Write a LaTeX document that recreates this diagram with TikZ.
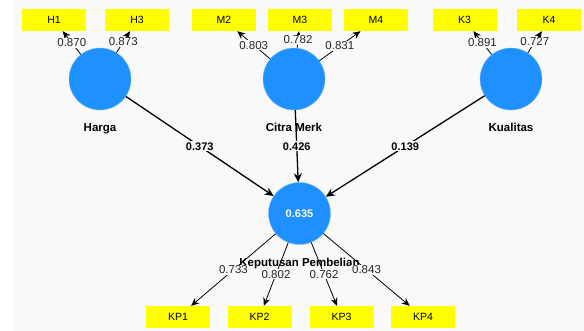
\documentclass[tikz,border=0pt]{standalone}
\usepackage{fontspec}
\setmainfont{Liberation Sans}
\usetikzlibrary{positioning,arrows.meta}
\definecolor{latentblue}{RGB}{30,144,255}
\definecolor{itemyellow}{RGB}{255,255,0}
\definecolor{canvas}{RGB}{249,249,249}
\tikzset{
  latent/.style={circle, fill=latentblue, draw=latentblue!60!white, minimum size=62pt, inner sep=0pt,
    font=\bfseries\fontsize{11}{12}\selectfont, text=white},
  indicator/.style={fill=itemyellow, minimum width=64pt, minimum height=22pt, inner sep=0pt,
    font=\fontsize{10.5}{12}\selectfont},
  latent name/.style={font=\bfseries\fontsize{11.5}{12}\selectfont, inner sep=1pt},
  loading/.style={fill=canvas, inner sep=1pt, font=\fontsize{11.5}{12}\selectfont, text=black!85},
  path coef/.style={fill=canvas, inner sep=1pt, font=\bfseries\fontsize{11}{12}\selectfont},
}

\begin{document}
\begin{tikzpicture}[x=1pt, y=-1pt, >={Stealth[length=8pt,width=7pt]}]
\fill [white] (0,0) rectangle (584,331);
\fill [canvas] (13,0) rectangle (584,331);
\useasboundingbox (0,0) rectangle (584,331);

\foreach \n/\x/\l in {harga/100/Harga, citra/294/Citra Merk, kualitas/511/Kualitas} {
  \node [latent] (\n) at (\x,79) {};
  \node [latent name, below=12pt of \n] (\n-name) {\l};
}
\node [latent] (kp) at (299.5,213.5) {0.635};
\node [latent name, below=12pt of kp] (kp-name) {Keputusan Pembelian};

\foreach \n/\x/\l in {h1/54/H1, h3/137/H3, m2/224/M2, m3/300/M3, m4/376/M4, k3/464.5/K3, k4/549/K4}
  \node [indicator] (\n) at (\x,20) {\l};

\foreach \i/\x in {1/178, 2/259.5, 3/341.5, 4/423}
  \node [indicator] (kp\i) at (\x,317) {KP\i};

\foreach \a/\b/\v in {harga/h1/0.870, harga/h3/0.873, citra/m2/0.803, citra/m3/0.782, citra/m4/0.831,
    kualitas/k3/0.891, kualitas/k4/0.727, kp/kp1/0.733, kp/kp2/0.802, kp/kp3/0.762, kp/kp4/0.843}
  \draw [->, line width=0.8pt] (\a) -- (\b)
    node [loading, midway] {\v};

\foreach \a/\v in {harga/0.373, citra/0.426, kualitas/0.139}
  \draw [-{Stealth[length=9pt,width=8pt]}, line width=1.3pt] (\a) -- (kp)
    node [path coef, midway] {\v};

\end{tikzpicture}
\end{document}
